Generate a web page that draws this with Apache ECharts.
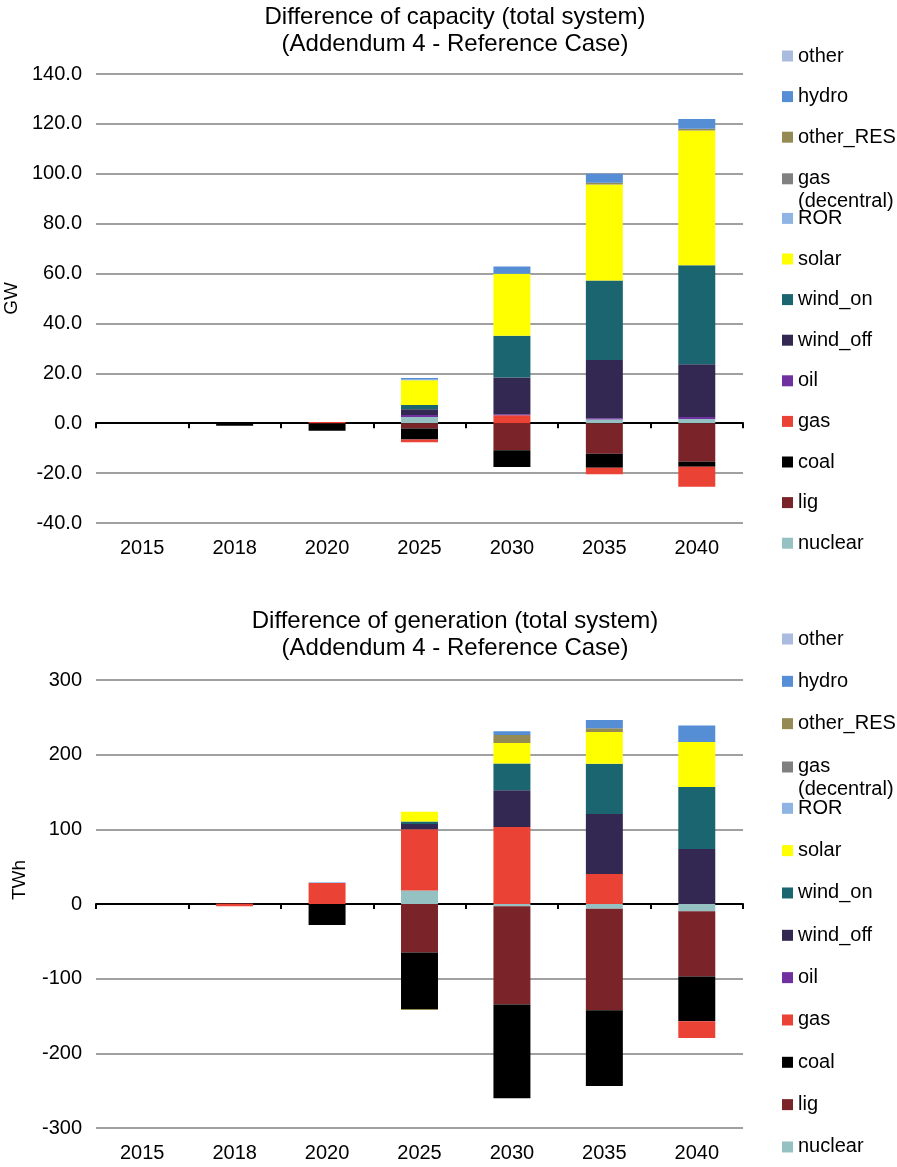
<!DOCTYPE html>
<html>
<head>
<meta charset="utf-8">
<script src="https://cdn.jsdelivr.net/npm/echarts@6/dist/echarts.min.js"></script>
<style>
html,body{margin:0;padding:0;background:#fff;}
#chart{width:897px;height:1167px;}
</style>
</head>
<body>
<div id="chart"></div>
<script>
// ---- data ----
const categories = ['2015','2018','2020','2025','2030','2035','2040'];
const seriesNames = ['nuclear','lig','coal','gas','oil','wind_off','wind_on','solar','ROR','gas (decentral)','other_RES','hydro','other'];
const seriesColors = ['#95C1C3','#7A2429','#000000','#EA4234','#7030A0','#332851','#1A6570','#FFFF00','#8EB4E3','#808080','#948A54','#558ED5','#A9BCE0'];

// capacity difference (GW)
const capNuclear  = [0, 0,    0,    2.5,   0,     1.5,   1.7];
const capLig      = [0, 0,    0,   -2.1, -10.8, -12.2, -15.4];
const capCoal     = [0, -1.0, -3.0, -4.4,  -6.7,  -5.7,  -2.0];
const capGas      = [0, 0,    0.5, -1.1,   3.2,  -2.6,  -8.1];
const capOil      = [0, 0,    0,    0.8,   0.4,   0.5,   0.8];
const capWindOff  = [0, 0,    0,    2.3,  14.7,  23.3,  21.1];
const capWindOn   = [0, 0,    0,    1.7,  16.8,  31.9,  39.7];
const capSolar    = [0, 0,    0,    9.9,  24.8,  38.5,  54.0];
const capROR      = [0, 0,    0,    0.3,   0,     0,     0];
const capGasDec   = [0, 0,    0,    0,     0,     0,     0];
const capOtherRES = [0, 0,    0,    0,     0,     0.7,   0.8];
const capHydro    = [0, 0,    0,    0.6,   2.9,   3.6,   3.9];
const capOther    = [0, 0,    0,    0,     0,     0,     0];

// generation difference (TWh)
const genNuclear  = [0, 0,   0,   18,    -3,    -6.2,   -9.8];
const genLig      = [0, 1,   0,  -64.9, -131.5, -136.2, -87.3];
const genCoal     = [0, 0, -28,  -75.7, -125.5, -101.5, -60];
const genGas      = [0, -3, 28,   82,    103,    40.1,  -22.5];
const genOil      = [0, 0,   0,    0,      0,      0,      0];
const genWindOff  = [0, 0,   0,    7,     49.4,   80.5,   73.5];
const genWindOn   = [0, 0,   0,    3.5,   35.7,   67.2,   83.3];
const genSolar    = [0, 0,   0,   13,     27.6,   42.7,   60.1];
const genROR      = [0, 0,   1,    0,      0,      0,      0];
const genGasDec   = [0, 0,   0,    0,      0,      0,      0];
const genOtherRES = [0, 0,   0,   -1.5,   10.7,    4.9,    0];
const genHydro    = [0, 0,   0,    0,      4.9,   11.1,   22.3];
const genOther    = [0, 0,   0,    0,      0,      0,      0];

const capTicks = { min: -40, max: 140, interval: 20 };
const genTicks = { min: -300, max: 300, interval: 100 };

const capData = [capNuclear,capLig,capCoal,capGas,capOil,capWindOff,capWindOn,capSolar,capROR,capGasDec,capOtherRES,capHydro,capOther];
const genData = [genNuclear,genLig,genCoal,genGas,genOil,genWindOff,genWindOn,genSolar,genROR,genGasDec,genOtherRES,genHydro,genOther];

// ---- layout ----
const FONT = 'Liberation Sans, Arial, sans-serif';
const charts = [
  { title: 'Difference of capacity (total system)\n(Addendum 4 - Reference Case)', titleTop: 4, unit: 'GW', gridTop: 74, gridH: 449, ticks: capTicks, data: capData, dec: 1, legTop0: 56, legStep: 40.6, namePad: 0 },
  { title: 'Difference of generation (total system)\n(Addendum 4 - Reference Case)', titleTop: 608, unit: 'TWh', gridTop: 680, gridH: 448, ticks: genTicks, data: genData, dec: 0, legTop0: 639, legStep: 42.33, namePad: 48 }
];

const option = { animation: false, textStyle: { fontFamily: FONT }, title: [], grid: [], xAxis: [], yAxis: [], legend: [], series: [] };

charts.forEach((c, ci) => {
  option.title.push({
    text: c.title, left: 455, top: c.titleTop, padding: 0, textAlign: 'center',
    textStyle: { fontFamily: FONT, fontSize: 24, fontWeight: 'normal', color: '#000', lineHeight: 27 }
  });
  option.grid.push({ left: 96, width: 647, top: c.gridTop, height: c.gridH, containLabel: false, outerBoundsMode: 'none' });
  // axis line at zero (with ticks)
  option.xAxis.push({
    type: 'category', gridIndex: ci, data: categories, position: 'bottom',
    axisLine: { onZero: true, lineStyle: { color: '#000', width: 2 } },
    axisTick: { show: true, length: 5, lineStyle: { color: '#000', width: 2 } },
    axisLabel: { show: false }, splitLine: { show: false }
  });
  // labels at bottom
  option.xAxis.push({
    type: 'category', gridIndex: ci, data: categories, position: 'bottom',
    axisLine: { show: false, onZero: false }, axisTick: { show: false },
    axisLabel: { color: '#000', fontSize: 20, fontFamily: FONT, margin: 15 }, splitLine: { show: false }
  });
  option.yAxis.push({
    type: 'value', gridIndex: ci, min: c.ticks.min, max: c.ticks.max, interval: c.ticks.interval,
    name: c.unit, nameLocation: 'middle', nameGap: 67, nameRotate: 90,
    nameTextStyle: { color: '#000', fontSize: 19, fontFamily: FONT, padding: [0, 0, 0, c.namePad] },
    axisLine: { show: false }, axisTick: { show: false },
    axisLabel: { color: '#000', fontSize: 20, fontFamily: FONT, margin: 14, formatter: v => v.toFixed(c.dec) },
    splitLine: { lineStyle: { color: '#A0A0A0', width: 2 } }
  });
  seriesNames.forEach((name, si) => {
    option.series.push({
      name: name, type: 'bar', stack: 'stack' + ci, xAxisIndex: ci * 2, yAxisIndex: ci,
      data: c.data[si], barWidth: '40%',
      itemStyle: { color: seriesColors[si] }
    });
  });
  // legend: one per item, reversed order (other at top)
  const rev = seriesNames.slice().reverse();
  rev.forEach((name, k) => {
    const cy = c.legTop0 + k * c.legStep;
    const multi = name === 'gas (decentral)';
    option.legend.push({
      data: [name], orient: 'vertical', left: 782,
      top: multi ? cy - 33 : cy - 11,
      icon: 'rect', itemWidth: 11, itemHeight: 11, itemGap: 0, padding: 0,
      selectedMode: false,
      formatter: n => n === 'gas (decentral)' ? '{e| }\n{a|gas}\n{a|(decentral)}' : n,
      textStyle: {
        color: '#000', fontSize: 20, fontFamily: FONT, lineHeight: 22,
        rich: {
          e: { fontSize: 20, lineHeight: 22, fontFamily: FONT },
          a: { fontSize: 20, lineHeight: 23, fontFamily: FONT, color: '#000' }
        }
      }
    });
  });
});

const chart = echarts.init(document.getElementById('chart'), null, { renderer: 'canvas' });
chart.setOption(option);
</script>
</body>
</html>
